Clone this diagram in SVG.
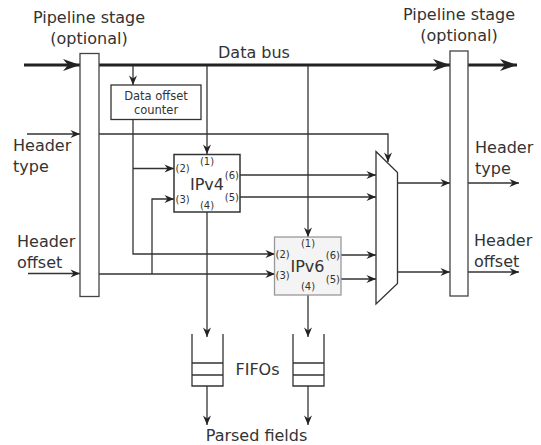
<svg xmlns="http://www.w3.org/2000/svg" width="541" height="445" viewBox="0 0 541 445">
<style>
text{font-family:"DejaVu Sans",sans-serif;fill:#333}
.big{font-size:16px}
.port{font-size:10px}
.small{font-size:11.5px}
.ln{fill:none;stroke:#333;stroke-width:1.3}
.bus{fill:none;stroke:#222;stroke-width:3}
.stage{fill:#fff;stroke:#444;stroke-width:1.3}
</style>
<defs>
<marker id="a" markerUnits="userSpaceOnUse" viewBox="-10 -5 10 10" markerWidth="10" markerHeight="10" refX="0" refY="0" orient="auto">
<path d="M0,0 L-9.5,-4 L-6.5,0 L-9.5,4 Z" fill="#222"/>
</marker>
<marker id="b" markerUnits="userSpaceOnUse" viewBox="-18 -7 18 14" markerWidth="18" markerHeight="14" refX="0" refY="0" orient="auto">
<path d="M0,0 L-17,-6 L-12,0 L-17,6 Z" fill="#222"/>
</marker>
</defs>

<g id="connectors">
<line class="bus" x1="24" y1="65" x2="80" y2="65" marker-end="url(#b)"/>
<line class="bus" x1="99" y1="65" x2="450" y2="65" marker-end="url(#b)"/>
<line class="bus" x1="468" y1="65" x2="517" y2="65" marker-end="url(#b)"/>
<line class="ln" x1="133" y1="66" x2="133" y2="85" marker-end="url(#a)"/>
<line class="ln" x1="207" y1="66" x2="207" y2="154" marker-end="url(#a)"/>
<line class="ln" x1="308" y1="66" x2="308" y2="237" marker-end="url(#a)"/>
<line class="ln" x1="27" y1="134" x2="80" y2="134" marker-end="url(#a)"/>
<path class="ln" d="M99,134 H388 V162" marker-end="url(#a)"/>
<path class="ln" d="M133,119 V254 H275" marker-end="url(#a)"/>
<path class="ln" d="M133,168.5 H174" marker-end="url(#a)"/>
<line class="ln" x1="28" y1="273.5" x2="80" y2="273.5" marker-end="url(#a)"/>
<path class="ln" d="M99,274 H275" marker-end="url(#a)"/>
<path class="ln" d="M152,274 V199 H174" marker-end="url(#a)"/>
<line class="ln" x1="240" y1="175" x2="376" y2="175" marker-end="url(#a)"/>
<line class="ln" x1="240" y1="197" x2="376" y2="197" marker-end="url(#a)"/>
<line class="ln" x1="341" y1="255" x2="376" y2="255" marker-end="url(#a)"/>
<line class="ln" x1="341" y1="279" x2="376" y2="279" marker-end="url(#a)"/>
<line class="ln" x1="207" y1="212" x2="207" y2="337" marker-end="url(#a)"/>
<line class="ln" x1="308" y1="295" x2="308" y2="337" marker-end="url(#a)"/>
<line class="ln" x1="207" y1="386" x2="207" y2="425" marker-end="url(#a)"/>
<line class="ln" x1="308" y1="386" x2="308" y2="425" marker-end="url(#a)"/>
<line class="ln" x1="397" y1="183" x2="450" y2="183" marker-end="url(#a)"/>
<line class="ln" x1="468" y1="183" x2="519" y2="183" marker-end="url(#a)"/>
<line class="ln" x1="397" y1="272" x2="450" y2="272" marker-end="url(#a)"/>
<line class="ln" x1="468" y1="272" x2="519" y2="272" marker-end="url(#a)"/>
</g>

<g id="stage-left">
<rect class="stage" x="80" y="53.5" width="19" height="243"/>
<text class="big" x="89" y="23" text-anchor="middle">Pipeline stage</text>
<text class="big" x="89" y="43.5" text-anchor="middle">(optional)</text>
</g>
<g id="stage-right">
<rect class="stage" x="450" y="51" width="18" height="245"/>
<text class="big" x="459" y="20" text-anchor="middle">Pipeline stage</text>
<text class="big" x="459" y="40.5" text-anchor="middle">(optional)</text>
</g>
<g id="data-bus-label">
<text class="big" x="218" y="57.5">Data bus</text>
</g>
<g id="counter">
<rect x="111" y="85" width="90" height="34.5" fill="#fff" stroke="#333" stroke-width="1.3"/>
<text class="small" x="156" y="100" text-anchor="middle">Data offset</text>
<text class="small" x="156" y="114.3" text-anchor="middle">counter</text>
</g>
<g id="ipv4">
<rect x="174" y="154.5" width="66" height="57.5" fill="#fff" stroke="#333" stroke-width="1.5"/>
<text class="big" x="207" y="189.5" text-anchor="middle">IPv4</text>
<text class="port" x="207" y="165" text-anchor="middle">(1)</text>
<text class="port" x="175.5" y="172">(2)</text>
<text class="port" x="175.5" y="203">(3)</text>
<text class="port" x="207" y="209" text-anchor="middle">(4)</text>
<text class="port" x="239" y="178.5" text-anchor="end">(6)</text>
<text class="port" x="239" y="200.5" text-anchor="end">(5)</text>
</g>
<g id="ipv6">
<rect x="274.5" y="237" width="66.5" height="58" fill="#f4f4f4" stroke="#999" stroke-width="1.3"/>
<text class="big" x="307.5" y="271.5" text-anchor="middle">IPv6</text>
<text class="port" x="308" y="247" text-anchor="middle">(1)</text>
<text class="port" x="275.5" y="258">(2)</text>
<text class="port" x="275.5" y="278.5">(3)</text>
<text class="port" x="308" y="290" text-anchor="middle">(4)</text>
<text class="port" x="340" y="258.5" text-anchor="end">(6)</text>
<text class="port" x="340" y="283" text-anchor="end">(5)</text>
</g>
<g id="mux">
<path d="M376,151.5 L397.5,172.5 V283.5 L376,304 Z" fill="#fff" stroke="#333" stroke-width="1.3"/>
</g>
<g id="fifo-left">
<path class="ln" d="M192,334 V386 H223 V334 M192,363 H223 M192,375 H223"/>
</g>
<g id="fifo-right">
<path class="ln" d="M293,334 V386 H324 V334 M293,363 H324 M293,375 H324"/>
</g>
<g id="labels">
<text class="big" x="13" y="151">Header</text>
<text class="big" x="13" y="171.5">type</text>
<text class="big" x="17" y="246.5">Header</text>
<text class="big" x="17" y="267.5">offset</text>
<text class="big" x="475" y="153">Header</text>
<text class="big" x="475" y="173.5">type</text>
<text class="big" x="474" y="246">Header</text>
<text class="big" x="474" y="266.5">offset</text>
<text class="big" x="257.5" y="375" text-anchor="middle">FIFOs</text>
<text class="big" x="256.5" y="441" text-anchor="middle">Parsed fields</text>
</g>
</svg>
